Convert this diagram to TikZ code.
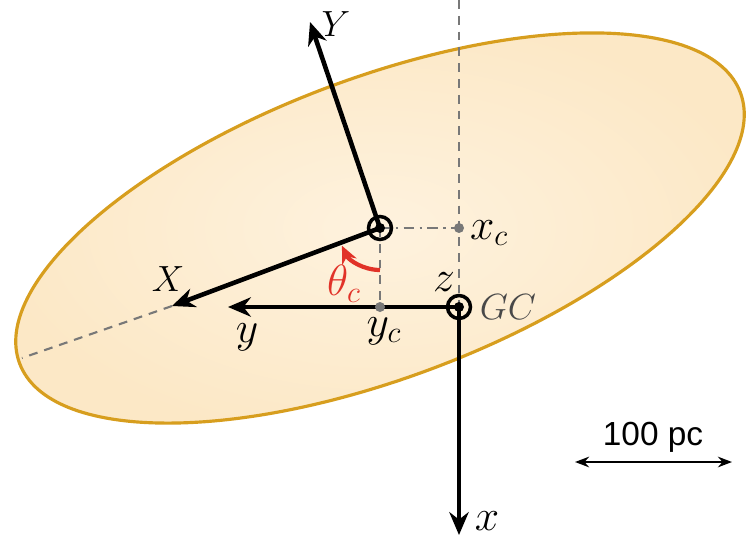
\documentclass[tikz,border=0pt]{standalone}
\usepackage{amsmath, amssymb}
\usepackage{fontspec}
\newfontfamily\scalefont{Liberation Sans}
\usetikzlibrary{positioning, arrows.meta}
\definecolor{diskfill}{RGB}{252,232,198}
\definecolor{diskin}{RGB}{254,242,222}
\definecolor{diskline}{RGB}{215,158,30}
\definecolor{guide}{RGB}{120,120,120}
\definecolor{anglered}{RGB}{225,50,40}

\begin{document}
\begin{tikzpicture}[
  x=0.02cm, y=0.02cm,
  axis/.style={line width=2.6pt, -{Stealth[length=13pt,width=11pt]}},
  guideline/.style={guide, line width=1.2pt, dash pattern=on 5pt off 4pt},
  origin/.style={circle, draw, line width=2pt, minimum size=0.46cm, inner sep=0pt},
  lbl/.style={font=\fontsize{25}{28}\selectfont},
  axlbl/.style={font=\fontsize{21}{24}\selectfont},
]
  \useasboundingbox (0,0) rectangle (746,545);

  % disk
  \coordinate (C) at (380,317);
  \shade[inner color=diskin, outer color=diskfill, draw=diskline, line width=1.8pt,
    rotate around={20.6:(C)}] (C) ellipse [x radius=385, y radius=150];

  % named points
  \coordinate (GCpt) at (459,238);
  \coordinate (xc) at (459,317);
  \coordinate (yc) at (380,238);
  \coordinate (top) at (459,545);
  \coordinate (Xtip) at (172,239);
  \coordinate (Ytip) at (310,523);
  \coordinate (Xend) at (22,187);
  \coordinate (ytip) at (228,238);
  \coordinate (xtip) at (459,10);

  % guide lines
  \draw[guideline] (top) -- (GCpt);
  \draw[guideline] (C) -- (yc);
  \draw[guide, line width=1.2pt, dash pattern=on 6pt off 3pt on 1.5pt off 3pt] (C) -- (xc);
  \draw[guideline] (Xtip) -- (Xend);

  % disk frame
  \draw[axis] (C) -- (Xtip);
  \draw[axis] (C) -- (Ytip);
  \node[origin] (Corig) at (C) {};
  \fill (C) circle (5);
  \node[axlbl] (Xlab) at (168,266) {$X$};
  \node[axlbl] (Ylab) at (336,521) {$Y$};

  % galactic frame
  \draw[axis] (GCpt) -- (ytip);
  \draw[axis] (GCpt) -- (xtip);
  \node[origin] (GC) at (GCpt) {};
  \fill (GCpt) circle (5);
  \fill[guide] (xc) circle (5);
  \fill[guide] (yc) circle (5);

  \node[lbl] (xclab) at (489,312) {$x_c$};
  \node[lbl] (yclab) at (384,214) {$y_c$};
  \node[lbl] (zlab) at (444,263) {$z$};
  \node[axlbl, guide!60!black] (GClab) at (508,238) {$GC$};
  \node[lbl] (ylab) at (247,208) {$y$};
  \node[lbl] (xlab) at (487,24) {$x$};

  % angle
  \draw[anglered, line width=2.4pt, -{Stealth[length=10pt,width=9pt]}]
    ([shift={(270:42)}]C) arc[start angle=270, end angle=205, radius=42];
  \node[lbl, anglered] (theta) at (344,261) {$\theta_c$};

  % scale bar
  \coordinate (barL) at (575,83);
  \coordinate (barR) at (732,83);
  \draw[line width=1.5pt, {Stealth[length=8pt,width=6pt]}-{Stealth[length=8pt,width=6pt]}] (barL) -- (barR);
  \node[font=\scalefont\fontsize{19}{22}\selectfont] (scale) at (653,108) {100 pc};
\end{tikzpicture}
\end{document}
